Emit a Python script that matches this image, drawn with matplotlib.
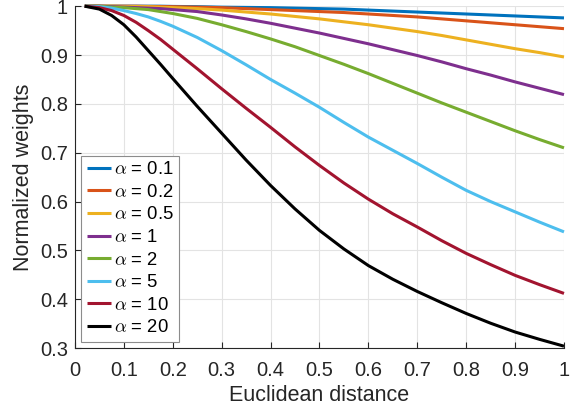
import numpy as np
import matplotlib
matplotlib.use("Agg")
import matplotlib.pyplot as plt

plt.rcParams['font.family'] = ['Liberation Sans', 'DejaVu Sans']
plt.rcParams['mathtext.fontset'] = 'cm'

# values
dist = [0.02, 0.05, 0.075, 0.1, 0.125, 0.15, 0.175, 0.2,
        0.25, 0.3, 0.35, 0.4, 0.45, 0.5, 0.55, 0.6,
        0.65, 0.7, 0.75, 0.8, 0.85, 0.9, 0.95, 1.0]

w_01 = [1.0, 1.0, 1.0, 1.0, 1.0, 1.0, 1.0, 0.9995, 0.999, 0.998, 0.9975, 0.997,
        0.996, 0.995, 0.994, 0.992, 0.990, 0.988, 0.986, 0.984, 0.982, 0.980, 0.978, 0.976]
w_02 = [1.0, 1.0, 1.0, 1.0, 1.0, 0.9995, 0.9993, 0.999, 0.998, 0.997, 0.995, 0.993,
        0.991, 0.989, 0.987, 0.984, 0.981, 0.978, 0.974, 0.970, 0.966, 0.962, 0.958, 0.954]
w_05 = [1.0, 1.0, 1.0, 0.9995, 0.9993, 0.999, 0.998, 0.997, 0.995, 0.992, 0.988, 0.984,
        0.979, 0.974, 0.968, 0.962, 0.955, 0.948, 0.940, 0.931, 0.922, 0.913, 0.905, 0.896]
w_1 = [1.0, 1.0, 0.999, 0.998, 0.997, 0.996, 0.995, 0.993, 0.989, 0.982, 0.974, 0.965,
       0.955, 0.945, 0.934, 0.923, 0.911, 0.899, 0.886, 0.872, 0.859, 0.845, 0.832, 0.819]
w_2 = [1.0, 1.0, 0.998, 0.997, 0.995, 0.993, 0.989, 0.985, 0.975, 0.962, 0.948, 0.933,
       0.917, 0.899, 0.881, 0.862, 0.842, 0.822, 0.802, 0.783, 0.764, 0.745, 0.727, 0.710]
w_5 = [1.0, 0.999, 0.996, 0.991, 0.985, 0.978, 0.969, 0.959, 0.936, 0.909, 0.880, 0.850,
       0.822, 0.793, 0.762, 0.732, 0.705, 0.678, 0.650, 0.623, 0.600, 0.579, 0.558, 0.538]
w_10 = [1.0, 0.997, 0.991, 0.981, 0.967, 0.950, 0.932, 0.912, 0.872, 0.831, 0.791, 0.752,
        0.712, 0.674, 0.638, 0.605, 0.575, 0.548, 0.520, 0.494, 0.471, 0.449, 0.430, 0.412]
w_20 = [1.0, 0.994, 0.981, 0.962, 0.937, 0.909, 0.881, 0.852, 0.795, 0.740, 0.685, 0.633,
        0.585, 0.541, 0.503, 0.469, 0.441, 0.416, 0.393, 0.371, 0.351, 0.333, 0.318, 0.304]

alphas = ['0.1', '0.2', '0.5', '1', '2', '5', '10', '20']
weights = [w_01, w_02, w_05, w_1, w_2, w_5, w_10, w_20]
colors = ['#0072BD', '#D95319', '#EDB120', '#7E2F8E', '#77AC30', '#4DBEEE', '#A2142F', '#000000']

xticks = [0, 0.1, 0.2, 0.3, 0.4, 0.5, 0.6, 0.7, 0.8, 0.9, 1]
xlabels = ['0', '0.1', '0.2', '0.3', '0.4', '0.5', '0.6', '0.7', '0.8', '0.9', '1']
yticks = [0.3, 0.4, 0.5, 0.6, 0.7, 0.8, 0.9, 1]
ylabels = ['0.3', '0.4', '0.5', '0.6', '0.7', '0.8', '0.9', '1']

fig = plt.figure(figsize=(5.72, 4.12), dpi=100)
ax = fig.add_axes([0.131, 0.155, 0.855, 0.830])

for a, w, c in zip(alphas, weights, colors):
    ax.plot(dist, w, color=c, lw=2.2, label=r'$\alpha$ = ' + a, clip_on=False,
            solid_capstyle='butt')

ax.set_xlim(0, 1)
ax.set_ylim(0.3, 1)
ax.set_xticks(xticks)
ax.set_xticklabels(xlabels)
ax.set_yticks(yticks)
ax.set_yticklabels(ylabels)
ax.tick_params(direction='in', length=4, colors='#262626', labelsize=14.5, width=0.8)
ax.tick_params(axis='x', pad=9)
ax.tick_params(axis='y', pad=5)
ax.grid(True, color='#e3e3e3', lw=0.8)
ax.set_axisbelow(True)
for s in ['top', 'right']:
    ax.spines[s].set_visible(False)
for s in ['left', 'bottom']:
    ax.spines[s].set_color('#262626')
    ax.spines[s].set_linewidth(0.8)

ax.set_xlabel('Euclidean distance', fontsize=15.5, color='#262626', labelpad=4)
ax.set_ylabel('Normalized weights', fontsize=15.5, color='#262626', labelpad=4)

leg = ax.legend(loc='lower left', fontsize=13.3, handlelength=1.3, handletextpad=0.15,
                labelspacing=0.3, borderaxespad=0.35, borderpad=0.3,
                fancybox=False, framealpha=1, edgecolor='#8c8c8c')
leg.get_frame().set_linewidth(0.8)

fig.savefig('out.png', dpi=100)
